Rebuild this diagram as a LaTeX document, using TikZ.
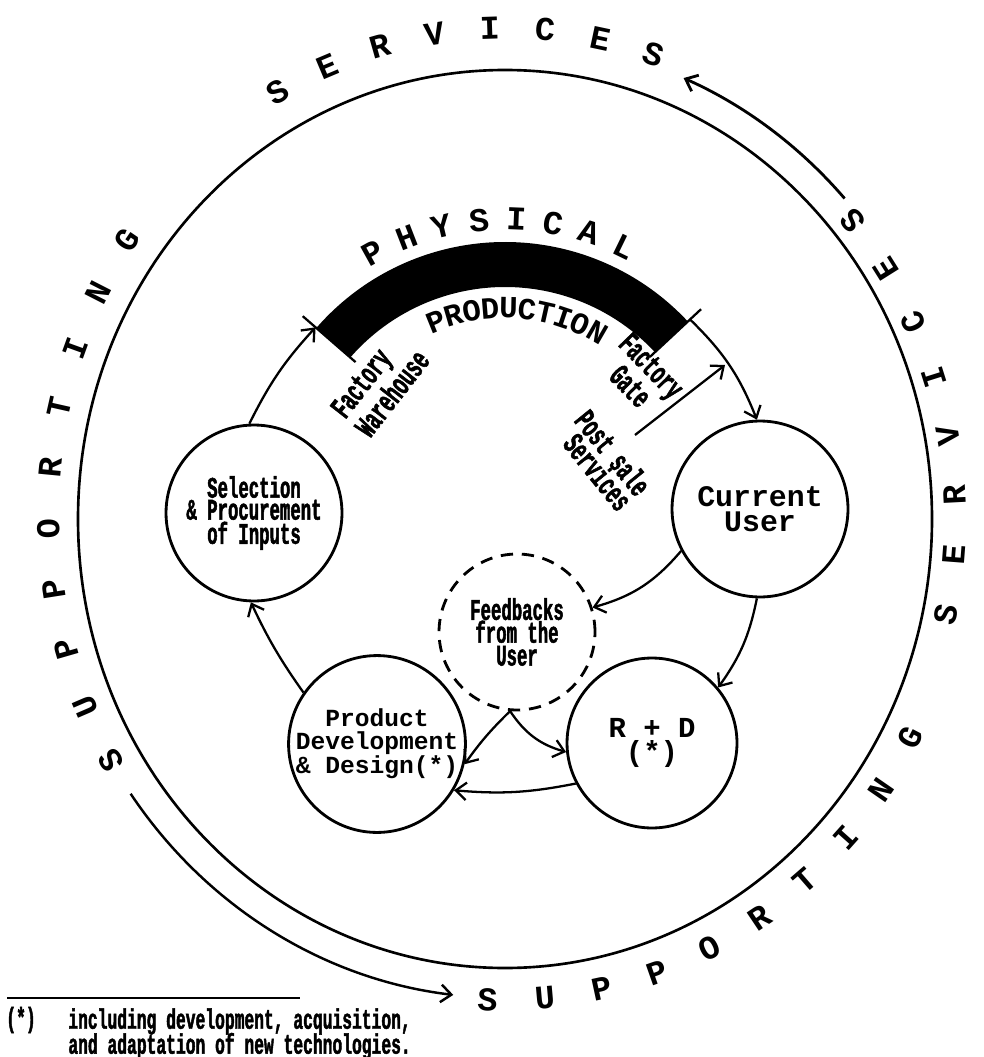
\documentclass[tikz,border=0pt]{standalone}
\usepackage{fontspec}
\newfontfamily\typer{Liberation Mono}
\newfontfamily\narrowtyper[FakeStretch=0.58, FakeBold=1.6]{Liberation Mono Bold}
\usetikzlibrary{arrows.meta,calc}

\begin{document}
\begin{tikzpicture}[
    x=0.02cm, y=0.02cm,
    stage/.style={
        circle,
        draw,
        line width=1.6pt,
        inner sep=0pt,
        align=center,
        font=\typer\bfseries\fontsize{14}{12.8}\selectfont
    },
    narrowtext/.style={
        font=\narrowtyper\fontsize{17}{12.5}\selectfont
    },
    sidelabel/.style={
        inner sep=0pt,
        font=\narrowtyper\fontsize{18}{12}\selectfont
    },
    letter/.style={
        inner sep=0pt,
        font=\typer\bfseries\fontsize{19}{19}\selectfont
    },
    flow/.style={
        -{Straight Barb[length=6pt,width=10pt]},
        line width=1.3pt
    },
    tick/.style={line width=1.3pt}
]
    \useasboundingbox (0,0) rectangle (983,-1057);

    % ==========================================
    % OUTER RING
    % ==========================================
    \coordinate (oc) at (505,-519);
    \coordinate (lc) at (505,-514);
    \draw[line width=1.5pt] (oc) ellipse [x radius=427, y radius=449];

    % clockwise phrase (letters outward)
    \foreach \ch [count=\i] in {S,U,P,P,O,R,T,I,N,G} {
        \pgfmathsetmacro\a{210.5-(\i-1)*7.2}
        \node[letter, rotate=\a-90] (supA-\i) at ($(lc)+({457*cos(\a)},{486*sin(\a)})$) {\ch};
    }
    \foreach \ch [count=\i] in {S,E,R,V,I,C,E,S} {
        \pgfmathsetmacro\a{119.8-(\i-1)*6.97}
        \node[letter, rotate=\a-90] (serA-\i) at ($(lc)+({457*cos(\a)},{486*sin(\a)})$) {\ch};
    }

    % counter-clockwise phrase (letters inward)
    \foreach \ch [count=\i] in {S,U,P,P,O,R,T,I,N,G} {
        \pgfmathsetmacro\a{267.8+(\i-1)*7.2}
        \node[letter, rotate=\a+90] (supB-\i) at ($(lc)+({457*cos(\a)},{486*sin(\a)})$) {\ch};
    }
    \foreach \ch [count=\i] in {S,E,R,V,I,C,E,S} {
        \pgfmathsetmacro\a{348.3+(\i-1)*7.3}
        \node[letter, rotate=\a+90] (serB-\i) at ($(oc)+({450*cos(\a)},{470*sin(\a)})$) {\ch};
    }

    % direction arrows
    \coordinate (topArr) at ($(oc)+({457*cos(42)},{479*sin(42)})$);
    \coordinate (botArr) at ($(oc)+({457*cos(215)},{479*sin(215)})$);
    \draw[flow, line width=1.6pt] (topArr) arc[start angle=42, end angle=67, x radius=457, y radius=479];
    \draw[flow, line width=1.4pt] (botArr) arc[start angle=215, end angle=263.5, x radius=457, y radius=479];

    % ==========================================
    % PHYSICAL PRODUCTION BAND
    % ==========================================
    \coordinate (ctr) at (505,-492);
    \fill ($(ctr)+(43:250)$) arc[start angle=43, end angle=139, radius=250]
        -- ($(ctr)+(139:205)$) arc[start angle=139, end angle=43, radius=205] -- cycle;
    \draw[tick] ($(ctr)+(139:198)$) -- ($(ctr)+(139:268)$);
    \draw[tick] ($(ctr)+(43:198)$) -- ($(ctr)+(43:268)$);
    \coordinate (W) at ($(ctr)+(139:251)$);
    \coordinate (G) at ($(ctr)+(43:253)$);

    \foreach \ch [count=\i] in {P,H,Y,S,I,C,A,L} {
        \pgfmathsetmacro\a{119-(\i-1)*7.85}
        \node[letter, rotate=\a-90] (phys-\i) at ($(ctr)+(\a:273)$) {\ch};
    }
    \foreach \ch [count=\i] in {P,R,O,D,U,C,T,I,O,N} {
        \pgfmathsetmacro\a{112-(\i-1)*5.78}
        \node[letter, rotate=\a-90, font=\typer\bfseries\fontsize{17.5}{17.5}\selectfont] (prod-\i) at ($(ctr)+(\a:184)$) {\ch};
    }

    % band labels
    \node[sidelabel, rotate=52, align=left] (warehouse) at (380,-384) {Factory\\Warehouse};
    \node[sidelabel, rotate=-46, align=center, font=\narrowtyper\fontsize{18}{14}\selectfont] (gate) at (641,-376) {Factory\\Gate};
    \node[sidelabel, rotate=-51, align=right, font=\narrowtyper\fontsize{18}{13.5}\selectfont] (postsale) at (604,-460) {Post sale\\Services};

    % ==========================================
    % STAGES
    % ==========================================
    \node[stage, narrowtext, minimum size=3.52cm] (sel) at (254,-513) {Selection\\\& Procurement\\of Inputs};
    \node[stage, minimum size=3.52cm, font=\typer\bfseries\fontsize{17}{14}\selectfont] (cu) at (760,-509) {Current\\User};
    \node[stage, minimum size=3.12cm, dash pattern=on 7pt off 5pt, font=\narrowtyper\fontsize{17}{13}\selectfont] (fb) at (517,-632) {Feedbacks\\from the\\User};
    \node[stage, minimum size=3.48cm] (pd) at (377,-744) {Product\\Development\\\& Design(*)};
    \node[stage, minimum size=3.4cm, font=\typer\bfseries\fontsize{16.5}{14}\selectfont] (rd) at (652,-743) {R + D\\(*)};

    % ==========================================
    % CONNECTIONS
    % ==========================================
    \draw[flow] (sel.93) to[bend left=8] (W);
    \draw[flow] (G) to[bend left=12] (cu.92);
    \draw[flow] (cu.268) to[bend left=12] (rd.40);
    \draw[flow] (rd.208) to[bend left=8] (pd.329);
    \draw[flow] (pd.145) to[bend left=5] (sel.268);
    \draw[flow] (cu.208) to[bend left=17] (fb.18);
    \draw[flow] (fb.265) to[bend right=5] (pd.347);
    \draw[flow] (fb.265) to[bend right=20] (rd.186);

    % post sale services
    \coordinate (psStart) at (635,-435);
    \coordinate (psTip) at (725,-365);
    \draw[flow] (psStart) -- (psTip);

    % ==========================================
    % FOOTNOTE
    % ==========================================
    \coordinate (fnL) at (7,-998);
    \coordinate (fnR) at (300,-998);
    \draw[line width=1.5pt] (fnL) -- (fnR);
    \node[inner sep=0pt, anchor=west, font=\narrowtyper\fontsize{16}{11.5}\selectfont] (fnmark) at (6,-1020) {(*)};
    \node[inner sep=0pt, anchor=north west, align=left, font=\narrowtyper\fontsize{16}{11.5}\selectfont] (fntext) at (68,-1008) {including development, acquisition,\\[-2pt]and adaptation of new technologies.};

\end{tikzpicture}
\end{document}
